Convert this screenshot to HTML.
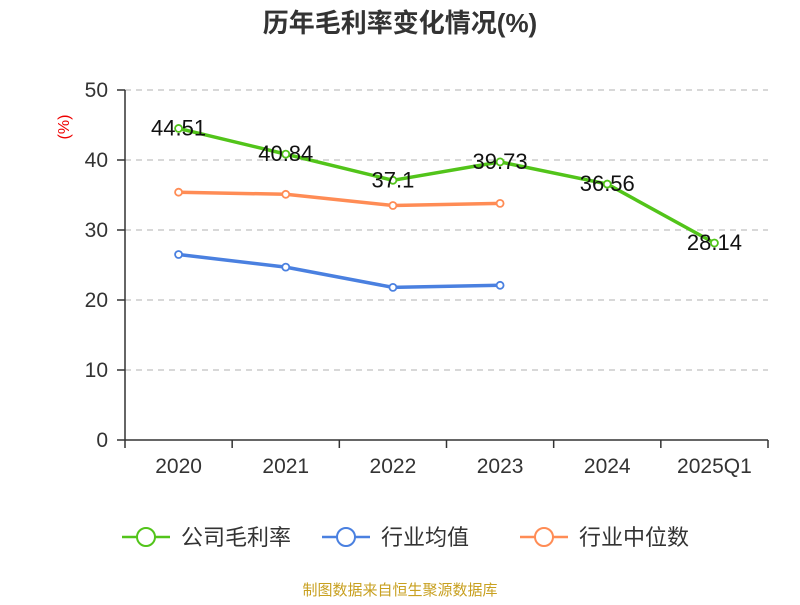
<!DOCTYPE html>
<html><head><meta charset="utf-8"><style>
body{margin:0;background:#fff;}
svg text{font-family:"Liberation Sans","Noto Sans CJK SC",sans-serif;}
</style></head><body>
<svg id="c" width="800" height="600" xmlns="http://www.w3.org/2000/svg">
<text x="400" y="32" text-anchor="middle" font-size="26" font-weight="bold" fill="#333">历年毛利率变化情况(%)</text>
<text x="69" y="127" text-anchor="middle" font-size="16" fill="#e00" transform="rotate(-90 69 127)">(%)</text>
<text x="400" y="595" text-anchor="middle" font-size="15" fill="#c8a020">制图数据来自恒生聚源数据库</text>
<g id="grid"></g><g id="axes"></g><g id="series"></g><g id="legend"></g>
</svg>
<script>
const categories=["2020","2021","2022","2023","2024","2025Q1"];
const grossMargin=[44.51,40.84,37.1,39.73,36.56,28.14];
const industryAvg=[26.5,24.7,21.8,22.1];
const industryMedian=[35.4,35.1,33.5,33.8];
const yTicks=[0,10,20,30,40,50];
const seriesNames=["公司毛利率","行业均值","行业中位数"];
const colors=["#52c41a","#4a80e0","#ff8c55"];
const NS="http://www.w3.org/2000/svg";
const L=125,R=768,T=90,B=440,yMax=50;
const bw=(R-L)/categories.length;
const xs=i=>L+bw*(i+0.5);
const ys=v=>B-(v/yMax)*(B-T);
function mk(tag,attrs,parent,text){const e=document.createElementNS(NS,tag);for(const k in attrs)e.setAttribute(k,attrs[k]);if(text!==undefined)e.textContent=text;document.getElementById(parent).appendChild(e);return e;}
yTicks.forEach(t=>{
  const y=ys(t);
  if(t>0){const g=mk('line',{x1:L,x2:R,y1:y,y2:y,stroke:'#ccc','stroke-dasharray':'6,5','stroke-width':1.5},'grid');
  
  }
  const tk=mk('line',{x1:L-8,x2:L,y1:y,y2:y,stroke:'#333','stroke-width':1.5},'axes');
  
  
  const lb=mk('text',{x:L-17,y:y+7,'text-anchor':'end','font-size':21,fill:'#333'},'axes',t);
  
  
});
const ya=mk('line',{x1:L,x2:L,y1:T,y2:B,stroke:'#333','stroke-width':1.5},'axes');


const xa=mk('line',{x1:L,x2:R,y1:B,y2:B,stroke:'#333','stroke-width':1.5},'axes');


for(let i=0;i<=categories.length;i++){const x=L+bw*i;const tk=mk('line',{x1:x,x2:x,y1:B,y2:B+8,stroke:'#333','stroke-width':1.5},'axes');

}
categories.forEach((c,i)=>{const t=mk('text',{x:xs(i),y:B+33,'text-anchor':'middle','font-size':21,fill:'#333'},'axes',c);

});
function drawSeries(data,color,name,labels){
  const pts=data.map((v,i)=>xs(i)+','+ys(v)).join(' ');
  const pl=mk('polyline',{points:pts,fill:'none',stroke:color,'stroke-width':3.5,'stroke-linejoin':'round'},'series');
  
  
  data.forEach((v,i)=>{
    const c=mk('circle',{cx:xs(i),cy:ys(v),r:3.5,fill:'#fff',stroke:color,'stroke-width':1.8},'series');
    
    
    if(labels){const t=mk('text',{x:xs(i),y:ys(v)+7,'text-anchor':'middle','font-size':22,fill:'#111'},'series',v);
    
    }
  });
}
drawSeries(industryMedian,colors[2],'industry-median',false);
drawSeries(industryAvg,colors[1],'industry-average',false);
drawSeries(grossMargin,colors[0],'gross-margin',true);
const legX=[122,322,520];
const legNames=['legend-gross-margin','legend-industry-average','legend-industry-median'];
seriesNames.forEach((n,i)=>{
  const x=legX[i],y=537;
  const ln=mk('line',{x1:x,x2:x+48,y1:y,y2:y,stroke:colors[i],'stroke-width':2.5},'legend');
  
  
  const c=mk('circle',{cx:x+24,cy:y,r:9,fill:'#fff',stroke:colors[i],'stroke-width':2},'legend');
  
  
  const t=mk('text',{x:x+59,y:y+8,'font-size':22,fill:'#333'},'legend',n);
  
  
});
</script>
</body></html>
